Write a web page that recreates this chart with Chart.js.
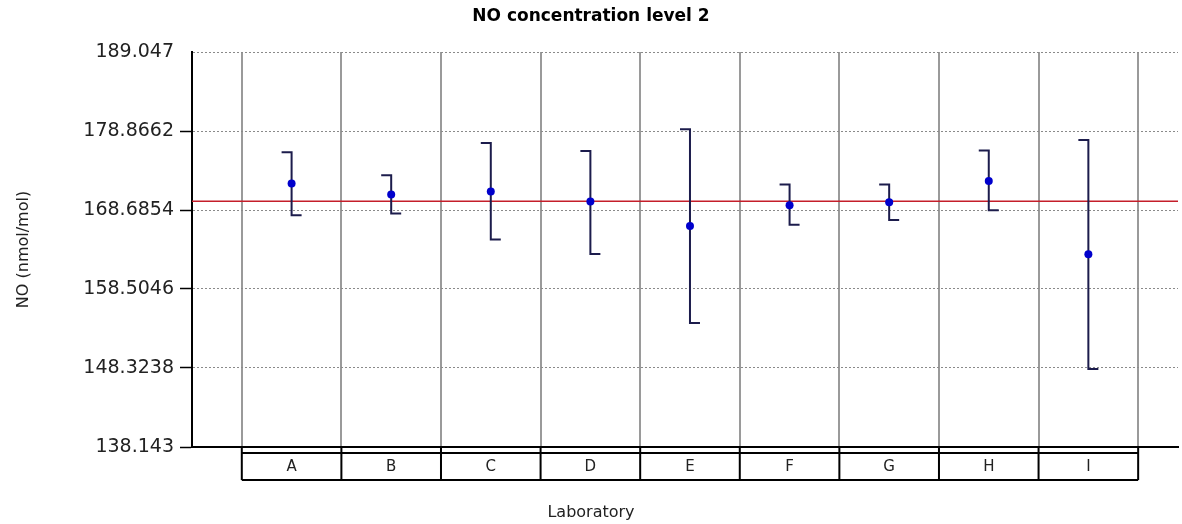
<!DOCTYPE html>
<html>
<head>
<meta charset="utf-8">
<script src="https://cdn.jsdelivr.net/npm/chart.js@4/dist/chart.umd.min.js"></script>
<style>
  html, body { margin: 0; padding: 0; background: #fff; }
  #wrap { width: 1182px; height: 524px; }
</style>
</head>
<body>
<div id="wrap"><canvas id="c" width="1182" height="524"></canvas></div>
<script>
// ---- data ----
const categories = ['A', 'B', 'C', 'D', 'E', 'F', 'G', 'H', 'I'];
const means      = [172.09, 170.67, 171.06, 169.77, 166.62, 169.29, 169.68, 172.42, 162.98];
const upper      = [176.12, 173.16, 177.32, 176.29, 179.09, 171.96, 171.96, 176.34, 177.71];
const lower      = [168.00, 168.22, 164.87, 163.01, 154.12, 166.80, 167.40, 168.65, 148.20];
const referenceValue = 169.8;
const yTicks      = [138.143, 148.3238, 158.5046, 168.6854, 178.8662, 189.047];
const yTickLabels = ['138.143', '148.3238', '158.5046', '168.6854', '178.8662', '189.047'];
const yMin = 138.143, yMax = 189.047;
const xMin = -1, xMax = 8.9;

const FONT = "'DejaVu Sans', Arial, sans-serif";

// error bars drawn through the chart scales
const errorBarPlugin = {
  id: 'errorBars',
  afterDatasetDraw(chart, args) {
    if (args.index !== 1) return;
    const ctx = chart.ctx, xs = chart.scales.x, ys = chart.scales.y;
    ctx.save();
    ctx.strokeStyle = '#1c1c4c';
    ctx.lineWidth = 2;
    const cap = 10;
    categories.forEach((c, i) => {
      const x = xs.getPixelForValue(i);
      const yt = ys.getPixelForValue(upper[i]);
      const yb = ys.getPixelForValue(lower[i]);
      ctx.beginPath();
      ctx.moveTo(x - cap, yt);
      ctx.lineTo(x, yt);
      ctx.lineTo(x, yb);
      ctx.lineTo(x + cap, yb);
      ctx.stroke();
    });
    ctx.restore();
  }
};

// category table under the plot
const tablePlugin = {
  id: 'catTable',
  afterDraw(chart) {
    const ctx = chart.ctx, xs = chart.scales.x;
    const top = chart.chartArea.bottom;
    const inner = top + 6;
    const bottom = top + 33;
    const xl = xs.getPixelForValue(-0.5);
    const xr = xs.getPixelForValue(categories.length - 0.5);
    ctx.save();
    ctx.strokeStyle = '#000';
    ctx.lineWidth = 2;
    ctx.beginPath();
    ctx.moveTo(xl, inner); ctx.lineTo(xr, inner);
    ctx.moveTo(xl, bottom); ctx.lineTo(xr, bottom);
    for (let i = 0; i <= categories.length; i++) {
      const x = xs.getPixelForValue(i - 0.5);
      ctx.moveTo(x, top); ctx.lineTo(x, bottom);
    }
    ctx.stroke();
    ctx.fillStyle = '#222';
    ctx.font = "15px " + FONT;
    ctx.textAlign = 'center';
    ctx.textBaseline = 'middle';
    categories.forEach((c, i) => {
      ctx.fillText(c, xs.getPixelForValue(i), (inner + bottom) / 2 + 1);
    });
    ctx.restore();
  }
};

new Chart(document.getElementById('c'), {
  type: 'scatter',
  data: {
    datasets: [
      {
        label: 'Laboratory mean',
        data: categories.map((c, i) => ({ x: i, y: means[i] })),
        pointStyle: 'circle',
        pointRadius: 4,
        pointBackgroundColor: '#0000cc',
        pointBorderColor: '#0000cc',
        pointBorderWidth: 0,
        showLine: false
      },
      {
        label: 'Reference',
        type: 'line',
        data: [{ x: xMin, y: referenceValue }, { x: xMax, y: referenceValue }],
        borderColor: '#c41e2a',
        borderWidth: 1.5,
        pointRadius: 0,
        fill: false
      }
    ]
  },
  options: {
    responsive: false,
    animation: false,
    devicePixelRatio: 1,
    layout: { padding: 0 },
    plugins: {
      legend: { display: false },
      tooltip: { enabled: false },
      title: {
        display: true,
        text: 'NO concentration level 2',
        color: '#000',
        font: { family: FONT, size: 17, weight: 'bold', lineHeight: 1.2 },
        padding: { top: 6, bottom: 25.6 }
      },
      subtitle: {
        display: true,
        position: 'bottom',
        text: 'Laboratory',
        color: '#222',
        font: { family: FONT, size: 16, lineHeight: 1.2 },
        padding: { top: 0, bottom: 2 }
      }
    },
    scales: {
      x: {
        type: 'linear',
        min: xMin,
        max: xMax,
        afterBuildTicks(scale) {
          const t = [];
          for (let i = 0; i <= categories.length; i++) t.push({ value: i - 0.5 });
          scale.ticks = t;
        },
        afterFit(scale) { scale.height = 55.8; },
        ticks: { display: false },
        grid: { color: '#9a9a9a', lineWidth: 2, drawTicks: false },
        border: { display: true, color: '#000', width: 2 }
      },
      y: {
        type: 'linear',
        min: yMin,
        max: yMax,
        afterBuildTicks(scale) { scale.ticks = yTicks.map(v => ({ value: v })); },
        afterFit(scale) { scale.width = 192; },
        ticks: {
          color: '#222',
          font: { family: FONT, size: 19 },
          padding: 6,
          callback: (v, i) => yTickLabels[i]
        },
        grid: {
          color: '#8a8a8a',
          lineWidth: 1,
          tickLength: 12,
          tickColor: (ctx) => (ctx.tick && ctx.tick.value === yMax) ? 'rgba(0,0,0,0)' : '#000',
          tickBorderDash: [],
          tickWidth: 1.5
        },
        border: { display: true, color: '#000', width: 2, dash: [2, 2] },
        title: {
          display: true,
          text: 'NO (nmol/mol)',
          color: '#222',
          font: { family: FONT, size: 16 },
          padding: { top: 14, bottom: 0 }
        }
      }
    }
  },
  plugins: [errorBarPlugin, tablePlugin]
});
</script>
</body>
</html>
